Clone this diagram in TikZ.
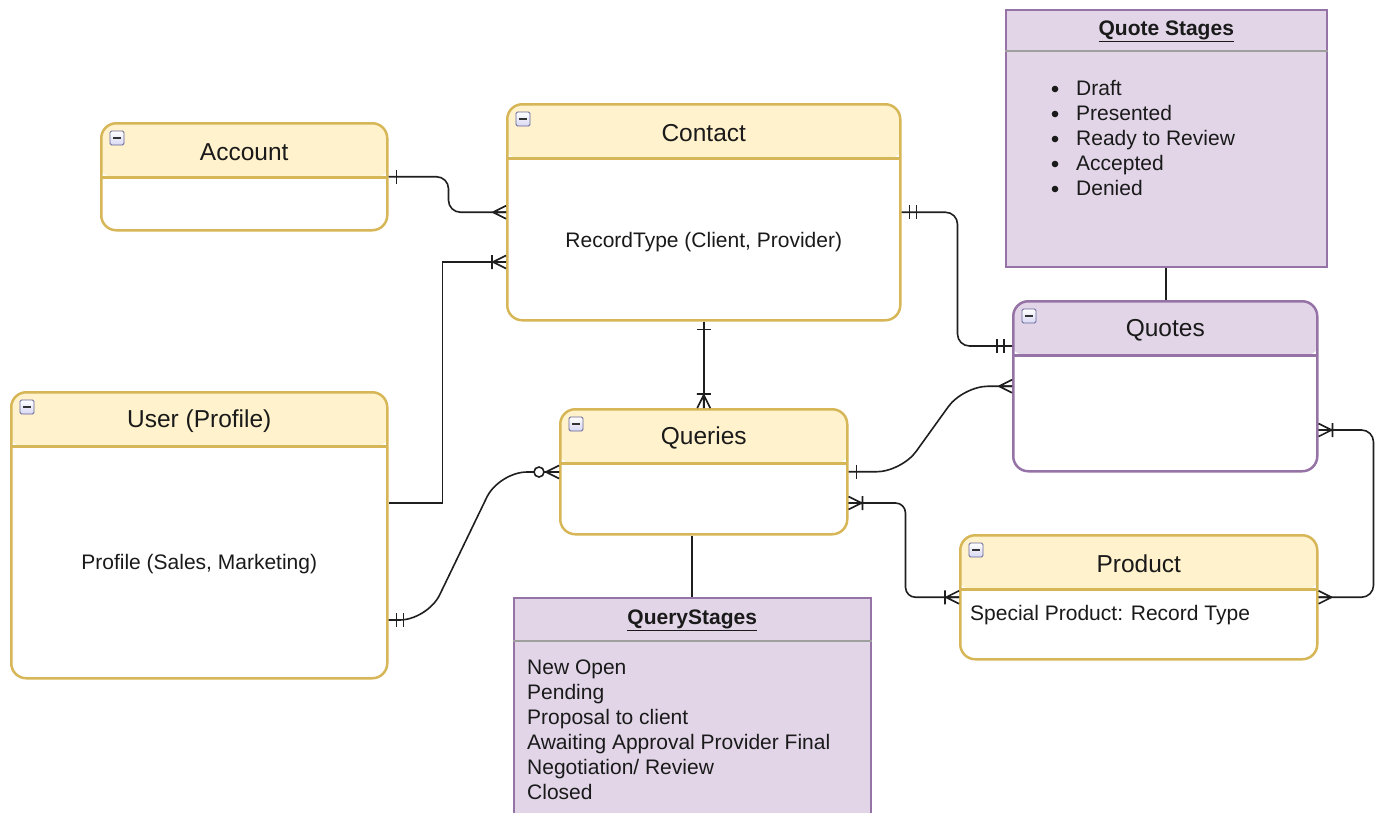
\documentclass[tikz,border=0pt]{standalone}
\usepackage{fontspec}
\setmainfont{Liberation Sans}
\usetikzlibrary{calc}
\definecolor{ylw}{HTML}{D6B656}
\definecolor{ylwfill}{HTML}{FFF2CC}
\definecolor{prp}{HTML}{9673A6}
\definecolor{prpfill}{HTML}{E1D5E7}
\definecolor{edgec}{HTML}{1F1F1F}
\definecolor{txt}{HTML}{1A1A1A}
\tikzset{
  entitybox/.style={line width=2.5pt, rounded corners=15pt, fill=white, inner sep=0pt, anchor=north west},
  yentity/.style={entitybox, draw=ylw,
    path picture={\fill[ylwfill] ([xshift=-3pt,yshift=3pt]path picture bounding box.north west) rectangle ([xshift=3pt,yshift=-54pt]path picture bounding box.north east);
      \draw[ylw, line width=2.5pt] ([xshift=-3pt,yshift=-54pt]path picture bounding box.north west) -- ([xshift=3pt,yshift=-54pt]path picture bounding box.north east);}},
  pentity/.style={entitybox, draw=prp,
    path picture={\fill[prpfill] ([xshift=-3pt,yshift=3pt]path picture bounding box.north west) rectangle ([xshift=3pt,yshift=-54pt]path picture bounding box.north east);
      \draw[prp, line width=2.5pt] ([xshift=-3pt,yshift=-54pt]path picture bounding box.north west) -- ([xshift=3pt,yshift=-54pt]path picture bounding box.north east);}},
  stagebox/.style={draw=prp, fill=prpfill, line width=1.5pt, inner sep=0pt, anchor=north west},
  titletext/.style={font=\fontsize{24.5}{29}\selectfont, text=txt, inner sep=0pt},
  bodytext/.style={font=\fontsize{21}{25}\selectfont, text=txt, inner sep=0pt},
  notetitle/.style={font=\fontsize{21}{25}\selectfont\bfseries, text=txt, inner sep=0pt},
  minusicon/.style={draw=gray!80!blue, rounded corners=1.5pt, minimum size=14pt, inner sep=0pt,
    top color=white, bottom color=gray!45!blue!20, line width=0.8pt,
    path picture={\draw[black!80, line width=2pt] ([xshift=3pt]path picture bounding box.west) -- ([xshift=-3pt]path picture bounding box.east);}},
  conn/.style={draw=edgec, line width=1.6pt},
  sepline/.style={draw=gray!75, line width=1.5pt},
  ermany/.pic={\draw[conn] (13,0) -- (0,-6.5) (13,0) -- (0,0) (13,0) -- (0,6.5);},
  erone/.pic={\draw[conn] (8,-7) -- (8,7);},
  ermandone/.pic={\draw[conn] (8,-7) -- (8,7) (15,-7) -- (15,7);},
  eronemany/.pic={\draw[conn] (13,0) -- (0,-6.5) (13,0) -- (0,0) (13,0) -- (0,6.5) (14,-7) -- (14,7);},
  erzeromany/.pic={\draw[conn] (13,0) -- (0,-6.5) (13,0) -- (0,0) (13,0) -- (0,6.5);
    \draw[conn, fill=white] (20,0) circle (5);},
}
\begin{document}
\begin{tikzpicture}[x=1pt, y=-1pt]
\useasboundingbox (0,0) rectangle (1380,812);
\clip (0,0) rectangle (1380,812);

% entities
\node[yentity, minimum width=286pt, minimum height=107pt] (account) at (100,122) {};
\node[yentity, minimum width=393pt, minimum height=216pt] (contact) at (506,103) {};
\node[yentity, minimum width=376pt, minimum height=286pt] (user) at (10,391) {};
\node[yentity, minimum width=287pt, minimum height=125pt] (queries) at (559,408) {};
\node[pentity, minimum width=304pt, minimum height=170pt] (quotes) at (1012,300) {};
\node[yentity, minimum width=357pt, minimum height=124pt] (product) at (959,534) {};

% titles
\node[titletext] (account-title) at ($(account.north)+(0,30)$) {Account};
\node[titletext] (contact-title) at ($(contact.north)+(0,30)$) {Contact};
\node[titletext] (user-title) at ($(user.north)+(0,30)$) {User (Profile)};
\node[titletext] (queries-title) at ($(queries.north)+(0,30)$) {Queries};
\node[titletext] (quotes-title) at ($(quotes.north)+(0,30)$) {Quotes};
\node[titletext] (product-title) at ($(product.north)+(0,30)$) {Product};

% body texts
\node[bodytext] (contact-body) at ($(contact.north)+(0,139)$) {RecordType (Client, Provider)};
\node[bodytext] (user-body) at ($(user.north)+(0,173)$) {Profile (Sales, Marketing)};
\node[bodytext, anchor=base west] (product-body) at (970,620) {Special Product: Record Type};

% icons
\foreach \n in {account,contact,user,queries,quotes,product}{
  \node[minusicon] (\n-icon) at ($(\n.north west)+(17,16)$) {};
}

% stage notes
\node[stagebox, minimum width=321pt, minimum height=257pt] (quotestages) at (1005,9) {};
\node[notetitle] (quotestages-title) at ($(quotestages.north)+(0,22)$) {\underline{Quote Stages}};
\draw[sepline] ($(quotestages.north west)+(0,42)$) -- ($(quotestages.north east)+(0,42)$);
\foreach \t [count=\i] in {Draft,Presented,Ready to Review,Accepted,Denied}{
  \fill[txt] (1055,{88+25*(\i-1)+1}) circle (3.3);
  \node[bodytext, anchor=base west] (qts-\i) at (1076,{88+25*(\i-1)+7.5}) {\t};
}

\node[stagebox, minimum width=357pt, minimum height=240pt] (querystages) at (513,597) {};
\node[notetitle] (querystages-title) at ($(querystages.north)+(0,23)$) {\underline{QueryStages}};
\draw[sepline] ($(querystages.north west)+(0,44)$) -- ($(querystages.north east)+(0,44)$);
\foreach \t [count=\i] in {New Open,Pending,Proposal to client,Awaiting Approval Provider Final,Negotiation/ Review,Closed}{
  \node[bodytext, anchor=base west] (qys-\i) at (527,{667+25*(\i-1)+7.5}) {\t};
}

% connectors
% Account -- Contact
\draw[conn, rounded corners=12pt] (account.east) -- ++(60,0) |- (contact.west);
\pic at (account.east) {erone};
\pic[rotate=180] at (contact.west) {ermany};

% User -- Contact
\coordinate (u1) at ([yshift=-112pt]user.north east);
\coordinate (c2) at ([yshift=-159pt]contact.north west);
\draw[conn] (u1) -- ++(54,0) |- (c2);
\pic[rotate=180] at (c2) {eronemany};

% Contact -- Quotes
\coordinate (q3) at ([yshift=-46pt]quotes.north west);
\draw[conn, rounded corners=12pt] (contact.east) -- ++(56,0) |- (q3);
\pic at (contact.east) {ermandone};
\pic[rotate=180] at (q3) {ermandone};

% Contact -- Queries
\draw[conn] (contact.south) -- (queries.north);
\pic[rotate=-90] at (contact.south) {erone};
\pic[rotate=90] at (queries.north) {eronemany};

% User -- Queries
\coordinate (u5) at ([yshift=-229pt]user.north east);
\coordinate (q5) at ([yshift=-64pt]queries.north west);
\draw[conn, rounded corners=28pt] (u5) -- ++(39,0) -- ($(q5)+(-60,0)$) -- (q5);
\pic at (u5) {ermandone};
\pic[rotate=180] at (q5) {erzeromany};

% Queries -- Quotes
\draw[conn, rounded corners=25pt] (queries.east) -- ++(53,0) -- ($(quotes.west)+(-49,0)$) -- (quotes.west);
\pic at (queries.east) {erone};
\pic[rotate=180] at (quotes.west) {ermany};

% Queries -- Product
\coordinate (q7) at ([yshift=-95pt]queries.north east);
\draw[conn, rounded corners=10pt] (q7) -- ++(57,0) |- (product.west);
\pic at (q7) {eronemany};
\pic[rotate=180] at (product.west) {eronemany};

% Quotes -- Product
\coordinate (q8) at ([yshift=-130pt]quotes.north east);
\draw[conn, rounded corners=12pt] (q8) -- ++(55,0) |- (product.east);
\pic at (q8) {eronemany};
\pic at (product.east) {ermany};

% notes links
\draw[conn] (quotestages.south) -- (quotestages.south |- quotes.north);
\draw[conn] (queries.south -| querystages.north) -- (querystages.north);
\end{tikzpicture}
\end{document}
